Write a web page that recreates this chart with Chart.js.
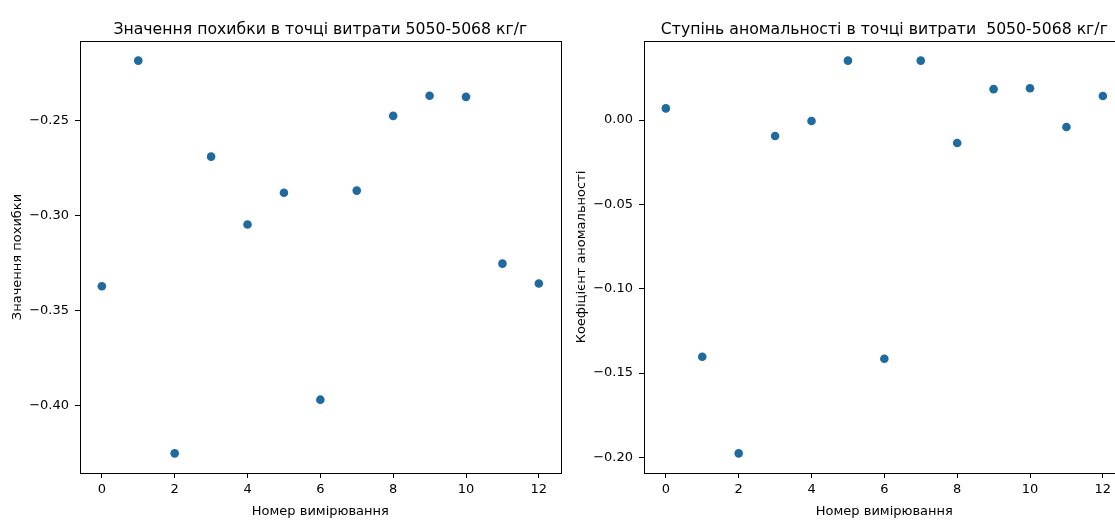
<!DOCTYPE html>
<html lang="uk">
<head>
<meta charset="utf-8">
<title>Похибка та аномальність</title>
<script src="https://cdn.jsdelivr.net/npm/chart.js@4.4.1/dist/chart.umd.min.js"></script>
<style>
  html, body { margin: 0; padding: 0; background: #fff; overflow: hidden; }
  #wrap { position: relative; width: 1115px; height: 520px; overflow: hidden; }
  canvas { position: absolute; top: 0; }
  #errorChart { left: 0; }
  #anomalyChart { left: 560px; }
</style>
</head>
<body>
<div id="wrap">
  <canvas id="errorChart" width="565" height="520"></canvas>
  <canvas id="anomalyChart" width="569" height="520"></canvas>
</div>
<script>
// Data
const MEASUREMENTS = [0, 1, 2, 3, 4, 5, 6, 7, 8, 9, 10, 11, 12];
const ERROR_VALUES = [-0.3372, -0.2183, -0.4253, -0.2689, -0.3047, -0.2879, -0.3970,
                      -0.2868, -0.2474, -0.2368, -0.2374, -0.3253, -0.3358];
const ANOMALY_VALUES = [0.0069, -0.1403, -0.1976, -0.0095, -0.0006, 0.0352, -0.1415,
                        0.0352, -0.0136, 0.0183, 0.0188, -0.0041, 0.0142];
const X_TICKS = [0, 2, 4, 6, 8, 10, 12];
const ERROR_TICKS = [-0.40, -0.35, -0.30, -0.25];
const ANOMALY_TICKS = [-0.20, -0.15, -0.10, -0.05, 0.00];

// Constants
const FONT = 'DejaVu Sans';
const POINT_COLOR = '#1f6a9e';
const MARGIN = 0.05; // matplotlib autoscale margin

// Utility Functions
const fmtTick = v => (Math.abs(v) < 1e-9 ? '0.00' : v.toFixed(2).replace('-', '\u2212'));
const limits = arr => {
  const lo = Math.min(...arr), hi = Math.max(...arr), pad = (hi - lo) * MARGIN;
  return { min: lo - pad, max: hi + pad };
};
const toPoints = values => MEASUREMENTS.map((x, i) => ({ x, y: values[i] }));

// matplotlib-like box around the axes
const framePlugin = {
  id: 'frame',
  afterDatasetsDraw(chart) {
    const { ctx, chartArea: a } = chart;
    ctx.save();
    ctx.strokeStyle = '#000';
    ctx.lineWidth = 1;
    ctx.strokeRect(Math.round(a.left) + 0.5, Math.round(a.top) + 0.5,
                   Math.round(a.right - a.left), Math.round(a.bottom - a.top));
    ctx.restore();
  }
};

function makeChart(canvasId, opts) {
  const xLim = limits(MEASUREMENTS);
  const yLim = limits(opts.values);
  const tickStyle = {
    color: '#000',
    font: { family: FONT, size: 13 }
  };
  const gridStyle = { drawOnChartArea: false, drawTicks: true, tickLength: 5, color: '#000', lineWidth: 1 };

  return new Chart(document.getElementById(canvasId), {
    type: 'scatter',
    data: {
      datasets: [{
        data: toPoints(opts.values),
        pointRadius: 4.3,
        pointHoverRadius: 4.3,
        pointBackgroundColor: POINT_COLOR,
        pointBorderWidth: 0
      }]
    },
    plugins: [framePlugin],
    options: {
      responsive: false,
      animation: false,
      devicePixelRatio: 1,
      layout: { padding: { left: 0, right: 4, top: 0, bottom: 0 } },
      plugins: {
        legend: { display: false },
        tooltip: { enabled: false },
        title: {
          display: true,
          text: opts.title,
          fullSize: false,
          color: '#000',
          font: { family: FONT, size: 15.7, weight: 'normal' },
          padding: { top: 20.6, bottom: 1.56 }
        }
      },
      scales: {
        x: {
          type: 'linear',
          position: 'bottom',
          min: xLim.min,
          max: xLim.max,
          afterBuildTicks: s => { s.ticks = X_TICKS.map(value => ({ value })); },
          afterFit: s => { s.height = 47; },
          grid: gridStyle,
          border: { display: false },
          ticks: { ...tickStyle, padding: 4, maxRotation: 0, callback: v => String(v) },
          title: {
            display: true,
            text: 'Номер вимірювання',
            color: '#000',
            font: { family: FONT, size: 13 },
            padding: { top: 0, bottom: 0.7 }
          }
        },
        y: {
          type: 'linear',
          position: 'left',
          min: yLim.min,
          max: yLim.max,
          afterBuildTicks: s => { s.ticks = opts.ticks.map(value => ({ value })); },
          afterFit: s => { s.width = opts.axisWidth; },
          grid: gridStyle,
          border: { display: false },
          ticks: { ...tickStyle, padding: 6, callback: v => fmtTick(v) },
          title: {
            display: true,
            text: opts.yTitle,
            color: '#000',
            font: { family: FONT, size: 13 },
            padding: { top: opts.yTitlePad, bottom: 0 }
          }
        }
      }
    }
  });
}

// Initialize
makeChart('errorChart', {
  title: 'Значення похибки в точці витрати 5050-5068 кг/г',
  yTitle: 'Значення похибки',
  values: ERROR_VALUES,
  ticks: ERROR_TICKS,
  axisWidth: 80,
  yTitlePad: 9.6
});

makeChart('anomalyChart', {
  title: 'Ступінь аномальності в точці витрати  5050-5068 кг/г',
  yTitle: 'Коефіцієнт аномальності',
  values: ANOMALY_VALUES,
  ticks: ANOMALY_TICKS,
  axisWidth: 84,
  yTitlePad: 13.9
});
</script>
</body>
</html>
